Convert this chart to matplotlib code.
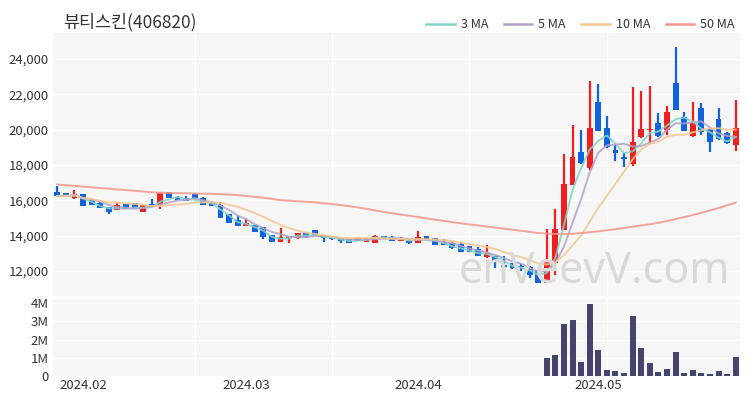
import matplotlib
matplotlib.use('Agg')
import matplotlib.pyplot as plt
import numpy as np
import pandas as pd
from matplotlib.ticker import FuncFormatter
from matplotlib.lines import Line2D

plt.rcParams['font.family'] = ['Noto Sans CJK KR', 'DejaVu Sans']

title = "뷰티스킨(406820)"

dates = (
    ['2024-01-29', '2024-01-30', '2024-01-31'] +
    ['2024-02-%02d' % d for d in [1, 2, 5, 6, 7, 8, 13, 14, 15, 16, 19, 20, 21, 22, 23, 26, 27, 28, 29]] +
    ['2024-03-%02d' % d for d in [4, 5, 6, 7, 8, 11, 12, 13, 14, 15, 18, 19, 20, 21, 22, 25, 26, 27, 28, 29]] +
    ['2024-04-%02d' % d for d in [1, 2, 3, 4, 5, 8, 9, 11, 12, 15, 16, 17, 18, 19, 22, 23, 24, 25, 26, 29, 30]] +
    ['2024-05-%02d' % d for d in [2, 3, 7, 8, 9, 10, 13, 14, 16, 17, 20, 21, 22, 23, 24, 27, 28]]
)

opens = [16490, 16400, 16110, 16340, 16080, 15830, 15600, 15450, 15790, 15830,
         15360, 15770, 15740, 16450, 16210, 16150, 16360, 16150, 15890, 15740,
         15230, 14890, 14550, 14600, 14470, 14040, 13660, 13850, 13850, 14130,
         14320, 13980, 13910, 13850, 13790, 13700, 13660, 13600, 13980, 13940,
         13720, 13810, 13600, 13980, 13850, 13660, 13600, 13510, 13420, 13230,
         12770, 12850, 12340, 12430, 12300, 12240, 12040, 11340, 12470, 14320,
         16870, 18720, 17810, 21580, 20110, 18850, 18470, 18060, 19600, 19960,
         20400, 19980, 22620, 20700, 19640, 21210, 20020, 20580, 19790, 19130]
highs = [16810, 16420, 16590, 16360, 16100, 15920, 15620, 15920, 15800, 15850,
         15750, 16060, 16420, 16470, 16230, 16250, 16430, 16170, 15980, 15890,
         15240, 15110, 14920, 14620, 14490, 14050, 14450, 14000, 14150, 14150,
         14340, 14000, 13920, 13870, 13810, 13870, 13870, 14030, 14000, 13960,
         13900, 13830, 14260, 14000, 13870, 13790, 13700, 13660, 13430, 13380,
         13470, 12870, 12850, 12450, 12420, 12260, 12060, 14400, 15490, 18600,
         20260, 19980, 22750, 22570, 20770, 19130, 18660, 22430, 22210, 22470,
         20960, 21340, 24700, 21020, 21550, 21490, 20100, 21210, 19890, 21680]
lows = [16230, 16250, 16100, 15680, 15720, 15570, 15210, 15430, 15490, 15490,
        15340, 15620, 15510, 16130, 16000, 15960, 16100, 15720, 15660, 15000,
        14720, 14530, 14530, 14210, 13790, 13650, 13650, 13600, 13830, 13890,
        14020, 13660, 13780, 13570, 13590, 13680, 13650, 13590, 13830, 13700,
        13700, 13550, 13590, 13780, 13460, 13450, 13270, 13080, 13080, 12830,
        12760, 12150, 12190, 12130, 12000, 11600, 11330, 11330, 11770, 14300,
        16850, 18050, 17700, 19900, 18950, 18250, 17870, 17940, 19550, 19190,
        19600, 19700, 21100, 19900, 19600, 19700, 18750, 19400, 19200, 18810]
closes = [16250, 16270, 16340, 15700, 15740, 15590, 15320, 15740, 15510, 15510,
          15740, 15640, 16400, 16150, 16020, 15980, 16110, 15740, 15680, 15020,
          14740, 14550, 14700, 14230, 13910, 13660, 13910, 13980, 14130, 13910,
          14040, 13850, 13790, 13720, 13600, 13850, 13850, 14000, 13850, 13720,
          13890, 13570, 13910, 13790, 13470, 13470, 13280, 13090, 13090, 12850,
          13000, 12530, 12210, 12150, 12220, 11790, 11340, 12530, 14380, 16920,
          18470, 18090, 20080, 19940, 19000, 18660, 18340, 19320, 20020, 20050,
          19640, 21020, 21110, 19940, 20360, 19890, 19320, 19450, 19230, 20080]
volumes = [0.008, 0.004, 0.006, 0.008, 0.006, 0.005, 0.008, 0.006, 0.004, 0.004,
           0.006, 0.006, 0.020, 0.008, 0.004, 0.004, 0.006, 0.006, 0.006, 0.012,
           0.010, 0.008, 0.006, 0.006, 0.010, 0.008, 0.010, 0.006, 0.006, 0.004,
           0.006, 0.006, 0.004, 0.004, 0.006, 0.004, 0.004, 0.006, 0.004, 0.004,
           0.004, 0.006, 0.015, 0.006, 0.006, 0.004, 0.006, 0.006, 0.004, 0.006,
           0.012, 0.008, 0.006, 0.006, 0.006, 0.012, 0.018, 0.96, 1.15, 2.87,
           3.06, 0.74, 3.94, 1.43, 0.33, 0.28, 0.17, 3.30, 1.54, 0.72,
           0.24, 0.37, 1.30, 0.17, 0.31, 0.19, 0.11, 0.30, 0.09, 1.06]
ma50 = [16900, 16860, 16820, 16780, 16740, 16700, 16660, 16620, 16580, 16540,
        16500, 16460, 16430, 16420, 16410, 16400, 16390, 16380, 16370, 16350,
        16330, 16300, 16250, 16200, 16150, 16080, 16010, 15980, 15950, 15920,
        15890, 15840, 15790, 15730, 15670, 15600, 15520, 15430, 15350, 15270,
        15200, 15130, 15060, 14980, 14910, 14840, 14770, 14700, 14640, 14580,
        14520, 14460, 14400, 14340, 14280, 14220, 14150, 14120, 14100, 14090,
        14110, 14150, 14200, 14250, 14310, 14370, 14440, 14510, 14580, 14650,
        14730, 14830, 14940, 15050, 15170, 15300, 15430, 15570, 15720, 15870]

ma_labels = ['3 MA', '5 MA', '10 MA', '50 MA']
ma_colors = ['#7fd4c6', '#b2a2c8', '#f2c78e', '#f4958a']

UP = '#f01e1e'
DOWN = '#1162dc'
VOLC = '#44446c'
BG = '#f6f6f6'

df = pd.DataFrame({'date': pd.to_datetime(dates), 'open': opens, 'high': highs,
                   'low': lows, 'close': closes, 'vol': np.array(volumes) * 1e6})
x = np.arange(len(df))
ma3 = df['close'].rolling(3, min_periods=1).mean()
ma5 = df['close'].rolling(5, min_periods=1).mean()
ma10 = df['close'].rolling(10, min_periods=1).mean()

fig = plt.figure(figsize=(7.5, 4.0), dpi=100)
ax = fig.add_axes([53 / 750, 1 - 296 / 400, 687 / 750, 263 / 400])
axv = fig.add_axes([53 / 750, 1 - 376 / 400, 687 / 750, 77 / 400])

for a in (ax, axv):
    a.set_facecolor(BG)
    for s in a.spines.values():
        s.set_visible(False)
    a.set_xlim(-0.5, len(df) - 0.5)
    a.tick_params(length=0, labelsize=9.5, labelcolor='#333333')
    for gx in [16, 32, 48, 64]:
        a.axvline(gx, color='white', lw=1.0, zorder=0.5)

# watermark
fig.text(594 / 750, 1 - 283 / 400, 'enVeevV.com', ha='center', va='baseline',
         fontsize=31, color='#d9d9d9', zorder=0.6, family=['Noto Sans', 'DejaVu Sans'])

ax.set_ylim(10590, 25470)
yt = [12000, 14000, 16000, 18000, 20000, 22000, 24000]
ax.set_yticks(yt)
ax.set_yticklabels([f'{v:,}' for v in yt])
for v in yt:
    ax.axhline(v, color='white', lw=1.0, zorder=0.5)
ax.set_xticks([])

up = df['close'] >= df['open']
colors = np.where(up, UP, DOWN)
ax.vlines(x, df['low'], df['high'], colors=colors, lw=1.6, zorder=3)
body_bot = np.minimum(df['open'], df['close'])
body_h = np.maximum(np.abs(df['close'] - df['open']), 60)
ax.bar(x, body_h, bottom=body_bot, width=0.68, color=colors, zorder=3.5, linewidth=0)

for ser, c in zip([ma3, ma5, ma10, ma50], ma_colors):
    ax.plot(x, ser, color=c, lw=1.4, alpha=0.85, zorder=4)

# volume
axv.set_ylim(0, 4.22e6)
vt = [0, 1e6, 2e6, 3e6, 4e6]
axv.set_yticks(vt)
axv.yaxis.set_major_formatter(FuncFormatter(lambda v, p: '0' if v == 0 else f'{int(round(v / 1e6))}M'))
for v in vt[1:]:
    axv.axhline(v, color='white', lw=1.0, zorder=0.5)
axv.bar(x, df['vol'], width=0.7, color=VOLC, zorder=3, linewidth=0)

month = df['date'].dt.month.values
ticks = [i for i in range(1, len(df)) if month[i] != month[i - 1]]
axv.set_xticks(ticks)
axv.set_xticklabels([df['date'][i].strftime('%Y.%m') for i in ticks])
axv.tick_params(axis='x', pad=2)
axv.tick_params(axis='y', pad=3)
ax.tick_params(axis='y', pad=3)

fig.text(63 / 750, 1 - 22 / 400, title, ha='left', va='center', fontsize=12.5, color='#333333')

handles = [Line2D([0], [0], color=c, lw=1.8) for c in ma_colors]
fig.legend(handles, ma_labels, loc='center right', bbox_to_anchor=(735 / 750, 1 - 25 / 400),
           ncol=4, frameon=False, fontsize=9, handlelength=2.3, handletextpad=0.5,
           columnspacing=1.2, labelcolor='#333333', borderaxespad=0, borderpad=0)

fig.savefig('out.png', dpi=100)
